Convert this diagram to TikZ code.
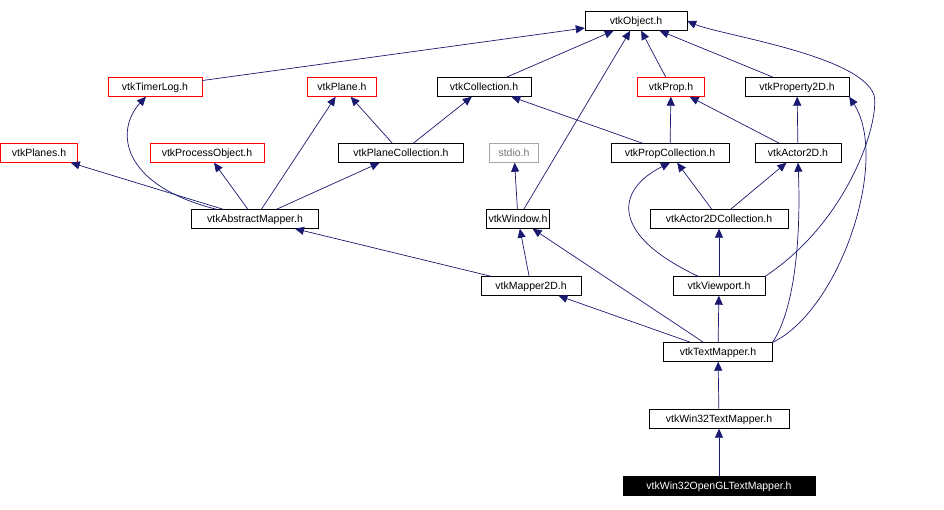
\documentclass[tikz,border=0pt]{standalone}
\usepackage{fontspec}
\setmainfont{Liberation Sans}
\usetikzlibrary{arrows.meta}
\definecolor{edge}{HTML}{191970}
\tikzset{
 box/.style={draw=black,fill=white,font=\fontsize{10.5}{12}\selectfont,inner sep=0pt,minimum height=19pt,text height=8pt,text depth=2pt},
 redbox/.style={box,draw=red},
 graybox/.style={box,draw=gray!70,text=gray!90!black},
 dark/.style={box,fill=black,text=white},
 dep/.style={draw=edge,-{Triangle[length=9pt,width=8pt]},line width=0.7pt}
}
\newcommand{\nd}[5]{\node[#1,minimum width=#4pt] (#2) at (#3) {#5};}
\begin{document}
\begin{tikzpicture}[x=1pt,y=-1pt]
\useasboundingbox (0,0) rectangle (944,509);
\nd{box}{obj}{636,21}{102}{vtkObject.h}
\nd{redbox}{timer}{155,87}{94}{vtkTimerLog.h}
\nd{redbox}{plane}{342,87}{69}{vtkPlane.h}
\nd{box}{coll}{484,87}{94}{vtkCollection.h}
\nd{redbox}{prop}{671,87}{67}{vtkProp.h}
\nd{box}{prop2d}{797,87}{104}{vtkProperty2D.h}
\nd{redbox}{planes}{39,153}{77}{vtkPlanes.h}
\nd{redbox}{proc}{207,153}{114}{vtkProcessObject.h}
\nd{box}{pcoll}{401,153}{125}{vtkPlaneCollection.h}
\nd{graybox}{stdio}{514,153}{49}{stdio.h}
\nd{box}{propcoll}{670,153}{118}{vtkPropCollection.h}
\nd{box}{actor}{798,153}{86}{vtkActor2D.h}
\nd{box}{absm}{255,219}{127}{vtkAbstractMapper.h}
\nd{box}{win}{518,219}{63}{vtkWindow.h}
\nd{box}{a2dc}{719,219}{138}{vtkActor2DCollection.h}
\nd{box}{m2d}{531,286}{100}{vtkMapper2D.h}
\nd{box}{vp}{719,286}{92}{vtkViewport.h}
\nd{box}{tm}{718,352}{109}{vtkTextMapper.h}
\nd{box}{w32}{719,419}{140}{vtkWin32TextMapper.h}
\nd{dark}{ogl}{719,486}{192}{vtkWin32OpenGLTextMapper.h}

\draw[dep] (timer) -- (obj);
\draw[dep] (coll) -- (obj);
\draw[dep] (prop) -- (obj);
\draw[dep] (prop2d) -- (obj);
\draw[dep] (win) -- (obj);
\draw[dep] (vp.north east) .. controls (850,220) and (880,120) .. (874,95) .. controls (860,55) and (720,35) .. (obj.east);
\draw[dep] (absm) .. controls (120,185) and (115,130) .. (timer);
\draw[dep] (absm) -- (planes);
\draw[dep] (absm) -- (proc);
\draw[dep] (absm) -- (plane);
\draw[dep] (absm) -- (pcoll);
\draw[dep] (pcoll) -- (plane);
\draw[dep] (pcoll) -- (coll);
\draw[dep] (propcoll) -- (coll);
\draw[dep] (propcoll) -- (prop);
\draw[dep] (actor) -- (prop);
\draw[dep] (actor) -- (prop2d);
\draw[dep] (win) -- (stdio);
\draw[dep] (a2dc) -- (propcoll);
\draw[dep] (a2dc) -- (actor);
\draw[dep] (m2d) -- (absm);
\draw[dep] (m2d) -- (win);
\draw[dep] (vp) .. controls (610,235) and (615,190) .. (propcoll.south);
\draw[dep] (vp) -- (a2dc);
\draw[dep] (tm) -- (m2d);
\draw[dep] (tm) -- (win);
\draw[dep] (tm) -- (vp);
\draw[dep] (tm.north east) .. controls (800,300) and (800,210) .. (actor.south);
\draw[dep] (tm.north east) .. controls (840,310) and (890,160) .. (prop2d.south east);
\draw[dep] (w32) -- (tm);
\draw[dep] (ogl) -- (w32);
\end{tikzpicture}
\end{document}
